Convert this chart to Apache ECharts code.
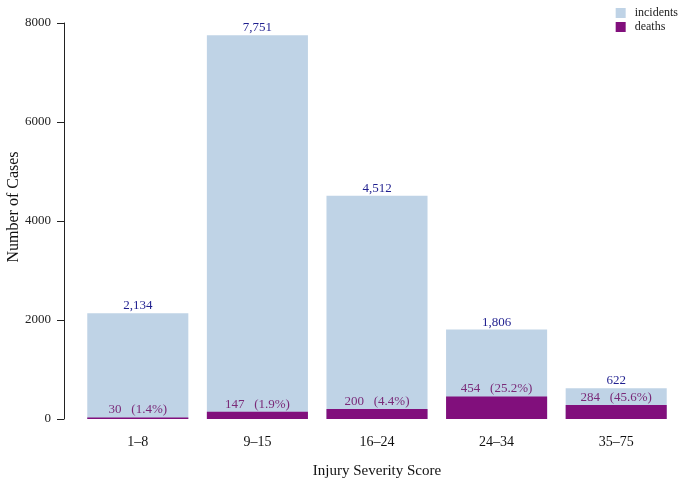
<!DOCTYPE html>
<html><head><meta charset="utf-8">
<script src="https://cdn.jsdelivr.net/npm/echarts@6/dist/echarts.min.js"></script>
<style>html,body{margin:0;padding:0;background:#fff}#c{width:681px;height:481px}</style>
</head><body><div id="c"></div>
<script>
var categories = ['1\u20138', '9\u201315', '16\u201324', '24\u201334', '35\u201375'];
var incidents = [2134, 7751, 4512, 1806, 622];
var deaths = [30, 147, 200, 454, 284];
var deathPct = ['1.4%', '1.9%', '4.4%', '25.2%', '45.6%'];
var yTicks = [0, 2000, 4000, 6000, 8000];

var FONT = '"Liberation Serif","DejaVu Serif",serif';
var chart = echarts.init(document.getElementById('c'));
chart.setOption({
  animation: false,
  textStyle: {fontFamily: FONT},
  legend: {
    right: -2, top: 2, orient: 'vertical', itemWidth: 10, itemHeight: 10, itemGap: 2, icon: 'rect',
    textStyle: {fontFamily: FONT, fontSize: 12, color: '#222', padding: [0, 0, 0, 4]},
    data: ['incidents', 'deaths']
  },
  grid: {left: 78, right: 5, top: 23, bottom: 62, outerBoundsMode: 'none', containLabel: false},
  xAxis: {
    type: 'category', data: categories,
    axisLine: {show: false}, axisTick: {show: false},
    axisLabel: {fontFamily: FONT, fontSize: 14, color: '#111', margin: 16},
    name: 'Injury Severity Score', nameLocation: 'middle', nameGap: 45,
    nameTextStyle: {fontFamily: FONT, fontSize: 15, color: '#111'}
  },
  yAxis: {
    type: 'value', min: 0, max: 8000, interval: 2000, offset: 14,
    axisLine: {show: true, lineStyle: {color: '#222'}},
    axisTick: {show: true, length: 7, lineStyle: {color: '#222'}},
    splitLine: {show: false},
    axisLabel: {fontFamily: FONT, fontSize: 13, color: '#222', margin: 13,
      formatter: function(v){ return String(v); }},
    name: 'Number of Cases', nameLocation: 'middle', nameGap: 42, nameRotate: 90, nameMoveOverlap: false,
    nameTextStyle: {fontFamily: FONT, fontSize: 16, color: '#111', padding: [0, 0, 0, 28]}
  },
  series: [
    {
      name: 'incidents', type: 'bar', data: incidents, barCategoryGap: '15.5%', barGap: '-100%',
      itemStyle: {color: '#bfd3e6'},
      label: {show: true, position: 'top', distance: 1, fontFamily: FONT, fontSize: 13, color: '#1f1f8f',
        formatter: function(p){ return p.value.toLocaleString('en-US'); }}
    },
    {
      name: 'deaths', type: 'bar', data: deaths, barCategoryGap: '15.5%', barGap: '-100%',
      itemStyle: {color: '#810f7c'},
      label: {show: true, position: 'top', distance: 1, fontFamily: FONT, fontSize: 13, color: '#7a2a78',
        formatter: function(p){ return p.value + '   (' + deathPct[p.dataIndex] + ')'; }}
    }
  ]
});
</script></body></html>
